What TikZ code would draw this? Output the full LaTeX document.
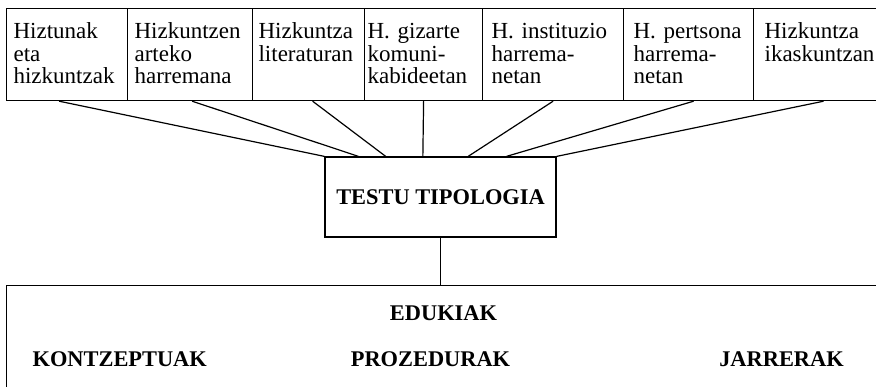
\documentclass[tikz,border=0pt]{standalone}
\usepackage{fontspec}
\setmainfont{Liberation Serif}
\usetikzlibrary{calc}

\begin{document}
\begin{tikzpicture}[x=1pt,y=-1pt,line width=1.2pt,
    topbox/.style={draw, rectangle, anchor=north west, inner xsep=0pt, inner ysep=8pt,
      minimum height=92pt, align=left, text height=22pt, text depth=54pt,
      font=\fontsize{23}{22.5}\selectfont},
    boldtext/.style={font=\fontsize{22.4}{26}\selectfont\bfseries}]
      \useasboundingbox (0,0) rectangle (876,387);

      %% top row of boxes
      \node[topbox, minimum width=121pt, text width=107pt] (b1) at (6,8)   {Hiztunak\\eta\\hizkuntzak};
      \node[topbox, minimum width=125pt, text width=111pt] (b2) at (127,8) {Hizkuntzen\\arteko\\harremana};
      \node[topbox, minimum width=112pt, text width=100pt] (b3) at (252,8) {Hizkuntza\\literaturan};
      \node[topbox, minimum width=118pt, text width=112pt] (b4) at (364,8) {H. gizarte\\komuni-\\kabideetan};
      \node[topbox, minimum width=141pt, text width=123pt] (b5) at (482,8) {H. instituzio\\harrema-\\netan};
      \node[topbox, minimum width=130pt, text width=110pt] (b6) at (623,8) {H. pertsona\\harrema-\\netan};
      \node[topbox, minimum width=140pt, text width=118pt] (b7) at (753,8) {Hizkuntza\\ikaskuntzan};

      %% middle box
      \node[draw, boldtext, minimum width=231pt, minimum height=80pt] (tt) at (440.5,197) {TESTU TIPOLOGIA};

      \draw ($(b1.south)+(-8,0)$) -- (tt.north west);
      \draw ($(b2.south)+(2,0)$)  -- ($(tt.north west)!0.147!(tt.north east)$);
      \draw ($(b3.south)+(4,0)$)  -- ($(tt.north west)!0.264!(tt.north east)$);
      \draw (b4.south)            -- ($(tt.north west)!0.424!(tt.north east)$);
      \draw (b5.south)            -- ($(tt.north west)!0.619!(tt.north east)$);
      \draw ($(b6.south)+(5,0)$)  -- ($(tt.north west)!0.784!(tt.north east)$);
      \draw (b7.south)            -- (tt.north east);

      %% bottom box
      \node[draw, anchor=north west, minimum width=890pt, minimum height=140pt] (ed) at (6,285) {};
      \draw (tt.south) -- (tt.south |- ed.north);

      \node[boldtext, anchor=base, inner sep=0pt]      (edk) at (443.5,321) {EDUKIAK};
      \node[boldtext, anchor=base west, inner sep=0pt] (kon) at (32,367)    {KONTZEPTUAK};
      \node[boldtext, anchor=base, inner sep=0pt]      (pro) at (430.5,367) {PROZEDURAK};
      \node[boldtext, anchor=base, inner sep=0pt]      (jar) at (781.5,367) {JARRERAK};
\end{tikzpicture}
\end{document}
